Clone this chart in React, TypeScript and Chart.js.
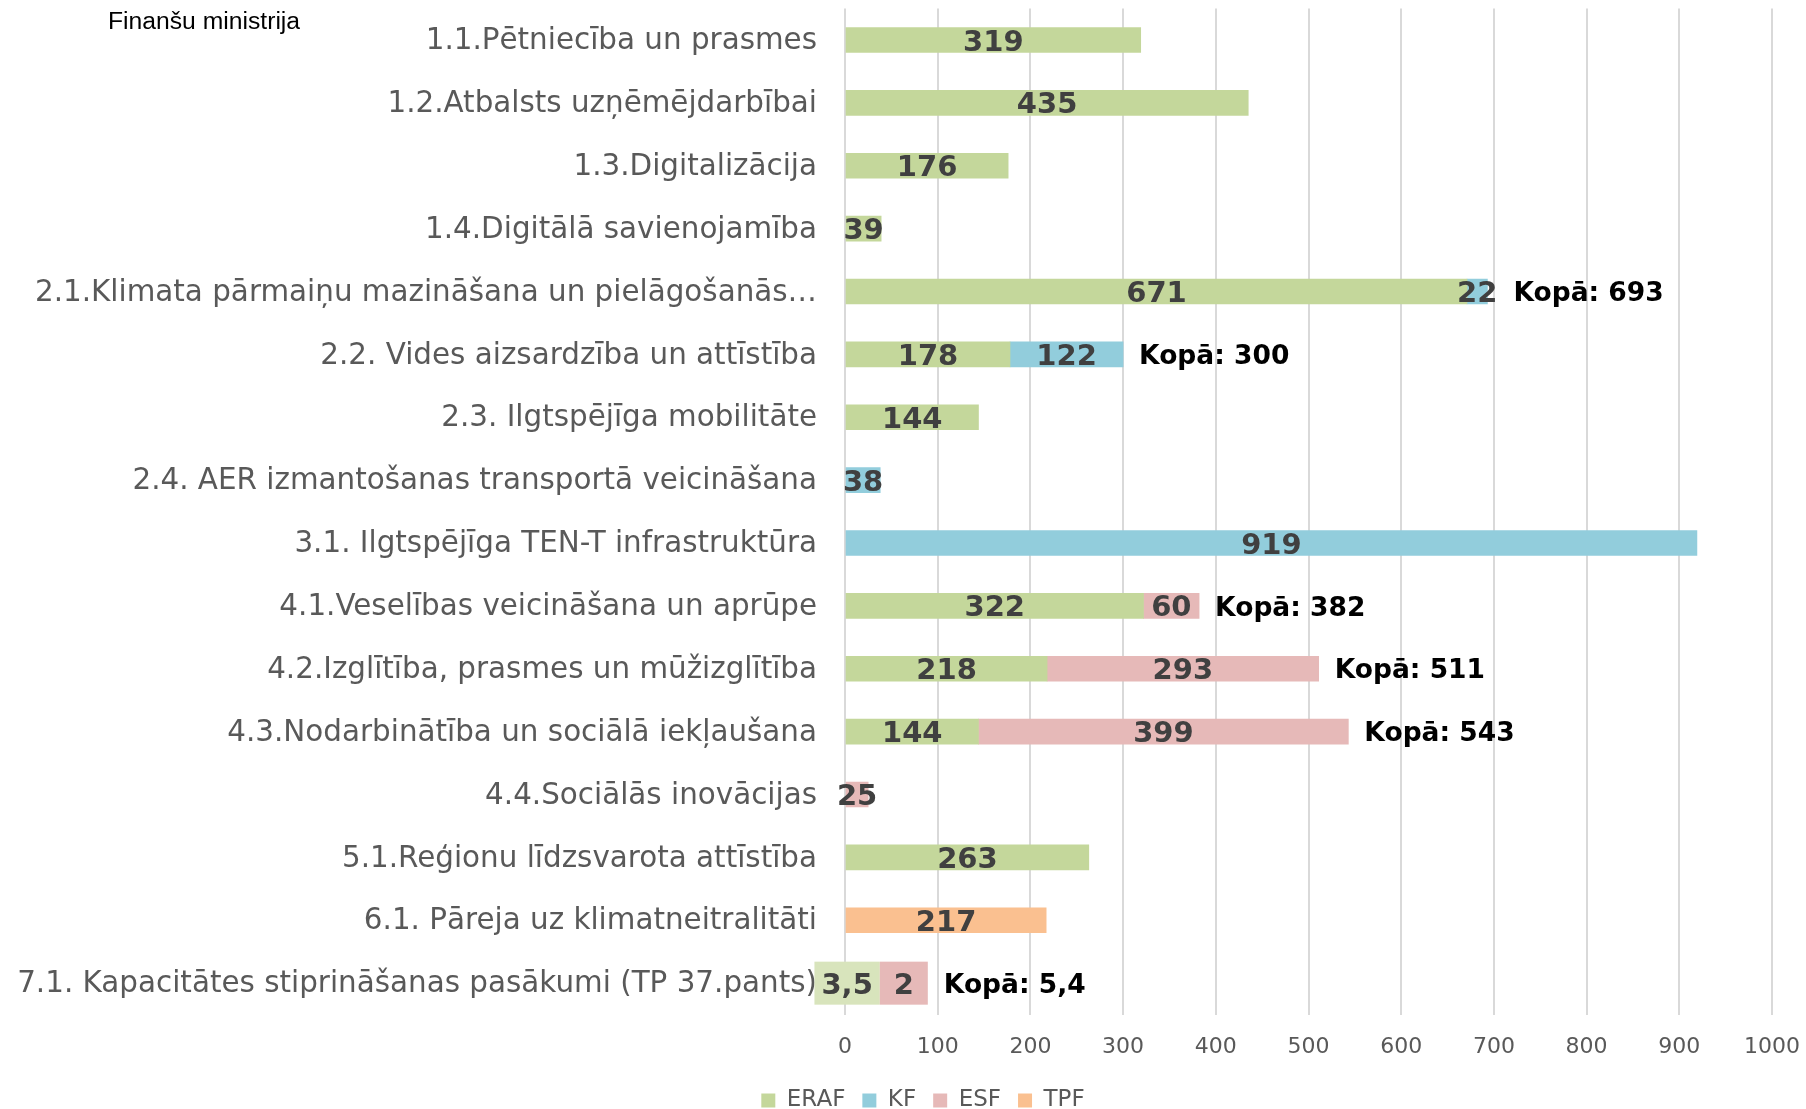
import React, { useEffect, useRef } from "react";
import { Chart, registerables } from "chart.js";

Chart.register(...registerables);

const categories: string[] = [
  "1.1.Pētniecība un prasmes",
  "1.2.Atbalsts uzņēmējdarbībai",
  "1.3.Digitalizācija",
  "1.4.Digitālā savienojamība",
  "2.1.Klimata pārmaiņu mazināšana un pielāgošanās…",
  "2.2. Vides aizsardzība un attīstība",
  "2.3. Ilgtspējīga mobilitāte",
  "2.4. AER izmantošanas transportā veicināšana",
  "3.1. Ilgtspējīga TEN-T infrastruktūra",
  "4.1.Veselības veicināšana un aprūpe",
  "4.2.Izglītība, prasmes un mūžizglītība",
  "4.3.Nodarbinātība un sociālā iekļaušana",
  "4.4.Sociālās inovācijas",
  "5.1.Reģionu līdzsvarota attīstība",
  "6.1. Pāreja uz klimatneitralitāti",
  "7.1. Kapacitātes stiprināšanas pasākumi (TP 37.pants)",
];

const seriesNames = ["ERAF", "KF", "ESF", "TPF"];

const erafValues: (number | null)[] = [319, 435, 176, 39, 671, 178, 144, null, null, 322, 218, 144, null, 263, null, 3.5];
const kfValues: (number | null)[] = [null, null, null, null, 22, 122, null, 38, 919, null, null, null, null, null, null, null];
const esfValues: (number | null)[] = [null, null, null, null, null, null, null, null, null, 60, 293, 399, 25, null, null, 2];
const tpfValues: (number | null)[] = [null, null, null, null, null, null, null, null, null, null, null, null, null, null, 217, null];

const totalValues: (number | null)[] = [null, null, null, null, 693, 300, null, null, null, 382, 511, 543, null, null, null, 5.4];
const totalPrefix = "Kopā: ";

const xMin = 0;
const xMax = 1000;
const xStep = 100;

const titleText = "Finanšu ministrija";

// rows whose value labels are drawn on filled label boxes
const boxedRows = [15];

const seriesColors = ["#C4D79B", "#92CDDC", "#E6B9B8", "#FAC090"];
const boxColors = ["#D8E4BC", "#92CDDC", "#E6B9B8", "#FAC090"];

const W = 1806;
const H = 1109;
const FONT = "'DejaVu Sans', Verdana, sans-serif";
const LABEL_SIZE = 29;
const TOTAL_SIZE = 26.5;
const CAP = 0.729;
const LEGEND_SHIFT = 74;

const fmt = (v: number) => String(v).replace(".", ",");

const labelPlugin = {
  id: "valueLabels",
  afterLayout(chart: any) {
    if (chart.legend) chart.legend.left += LEGEND_SHIFT;
  },
  afterDatasetsDraw(chart: any) {
    const ctx = chart.ctx as CanvasRenderingContext2D;
    ctx.save();
    const boxPad = 7;
    const boxMinW = 48;
    const boxH = 43;
    for (let i = 0; i < categories.length; i++) {
      let rowRight = -Infinity;
      let prevBoxRight = -Infinity;
      let rowY = 0;
      ctx.font = `bold ${LABEL_SIZE}px ${FONT}`;
      chart.data.datasets.forEach((ds: any, di: number) => {
        const v = ds.data[i];
        const el = chart.getDatasetMeta(di).data[i];
        if (!el) return;
        const p = el.getProps(["x", "base", "y"], true);
        rowY = p.y;
        if (v == null || v === 0) return;
        const text = fmt(v);
        const w = ctx.measureText(text).width;
        let cx = (p.x + p.base) / 2;
        if (boxedRows.includes(i)) {
          const bw = Math.max(w + 2 * boxPad, boxMinW);
          let left = cx - bw / 2;
          if (left < prevBoxRight) left = prevBoxRight;
          cx = left + bw / 2;
          ctx.fillStyle = boxColors[di];
          ctx.fillRect(left, p.y - boxH / 2, bw, boxH);
          prevBoxRight = left + bw;
        }
        ctx.fillStyle = "#404040";
        ctx.textAlign = "center";
        ctx.textBaseline = "alphabetic";
        ctx.fillText(text, cx, p.y + (CAP * LABEL_SIZE) / 2);
        rowRight = Math.max(rowRight, p.x, cx + w / 2, prevBoxRight);
      });
      const t = totalValues[i];
      if (t != null) {
        ctx.font = `bold ${TOTAL_SIZE}px ${FONT}`;
        ctx.fillStyle = "#000000";
        ctx.textAlign = "left";
        ctx.textBaseline = "alphabetic";
        ctx.fillText(totalPrefix + fmt(t), rowRight + 16, rowY + (CAP * TOTAL_SIZE) / 2);
      }
    }
    ctx.font = `24.7px 'Liberation Sans', Arial, sans-serif`;
    ctx.fillStyle = "#000000";
    ctx.textAlign = "left";
    ctx.textBaseline = "alphabetic";
    ctx.fillText(titleText, 108, 29);
    ctx.restore();
  },
};

export default function App() {
  const ref = useRef<HTMLCanvasElement | null>(null);
  useEffect(() => {
    if (!ref.current) return;
    const seriesData = [erafValues, kfValues, esfValues, tpfValues];
    const chart = new Chart(ref.current, {
      type: "bar",
      data: {
        labels: categories,
        datasets: seriesNames.map((name, k) => ({
          label: name,
          data: seriesData[k] as any,
          backgroundColor: seriesColors[k],
          borderWidth: 0,
          barThickness: 25,
        })),
      },
      options: {
        indexAxis: "y",
        responsive: false,
        animation: false,
        layout: { padding: { top: 8.6, right: 34, bottom: 0, left: 0 } },
        plugins: {
          tooltip: { enabled: false },
          legend: {
            position: "bottom",
            maxHeight: 37,
            labels: {
              boxWidth: 14,
              boxHeight: 14,
              padding: 17,
              color: "#595959",
              font: { family: FONT, size: 23 },
            },
          } as any,
        },
        scales: {
          x: {
            type: "linear",
            stacked: true,
            min: xMin,
            max: xMax,
            ticks: {
              stepSize: xStep,
              color: "#595959",
              padding: 19,
              font: { family: FONT, size: 22 },
              callback: (v: any) => String(v),
            },
            grid: { color: "#D9D9D9", lineWidth: 2, drawTicks: false },
            border: { display: false },
            afterFit: (s: any) => {
              s.height = 57.4;
              s.paddingLeft = 0;
              s.paddingRight = 0;
            },
          },
          y: {
            type: "category",
            stacked: true,
            ticks: {
              autoSkip: false,
              color: "#595959",
              padding: 28,
              labelOffset: 1.5,
              font: { family: FONT, size: 29.4 },
            },
            grid: { display: false, drawTicks: false },
            border: { display: false },
            afterFit: (s: any) => {
              s.width = 845;
              s.paddingTop = 0;
              s.paddingBottom = 0;
            },
          },
        },
      } as any,
      plugins: [labelPlugin],
    });
    return () => chart.destroy();
  }, []);
  return (
    <div style={{ position: "absolute", left: 0, top: 0, width: W, height: H }}>
      <canvas ref={ref} width={W} height={H} style={{ display: "block", width: W, height: H }} />
    </div>
  );
}
